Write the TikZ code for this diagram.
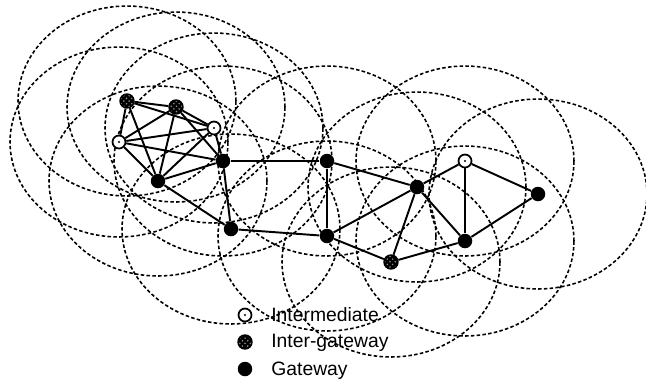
\documentclass[tikz,border=0pt]{standalone}
\usepackage{fontspec}
\setmainfont{Liberation Sans}
\usetikzlibrary{patterns,backgrounds}

\begin{document}
\begin{tikzpicture}[x=0.02cm,y=-0.02cm,
  coverage/.style={draw=black,line width=0.9pt,dash pattern=on 2pt off 1.3pt},
  link/.style={draw=black,line width=1.1pt},
  gw/.style={circle,fill=black,inner sep=0pt,minimum size=0.29cm},
  igw/.style={circle,draw=black,line width=0.8pt,preaction={fill=black},pattern=crosshatch dots,pattern color=black!45,inner sep=0pt,minimum size=0.28cm},
  mid/.style={circle,draw=black,line width=1pt,fill=white,inner sep=0pt,minimum size=0.26cm,
    path picture={\fill[black] (path picture bounding box.center) circle (0.6pt);}},
  legtext/.style={anchor=base west,inner sep=0pt,font=\fontsize{11}{13}\selectfont}]
\useasboundingbox (0,0) rectangle (646,383);
% stations
\node[igw] (a) at (127,101) {};
\node[igw] (b) at (176,107) {};
\node[mid] (c) at (214,128) {};
\node[mid] (d) at (119,142) {};
\node[gw] (e) at (158,181) {};
\node[gw] (f) at (223,161) {};
\node[gw] (g) at (327,161) {};
\node[gw] (h) at (231,229) {};
\node[gw] (i) at (327,236) {};
\node[gw] (j) at (417,187) {};
\node[mid] (k) at (465,161) {};
\node[gw] (l) at (538,194) {};
\node[gw] (m) at (465,241) {};
\node[igw] (n) at (391,262) {};
\begin{pgfonlayer}{background}
% radio ranges
\foreach \p in {a,b,c,d,e,f,g,h,i,j,k,l,m,n}
  \draw[coverage] (\p) ellipse [x radius=2.18cm, y radius=1.9cm];
% links
\foreach \u/\v in {a/b,a/c,a/d,a/e,b/c,b/d,b/e,b/f,c/d,c/e,c/f,d/e,d/f,e/f,
    e/h,f/h,f/g,g/i,g/j,h/i,i/j,i/n,j/n,j/k,j/m,k/m,k/l,l/m,m/n}
  \draw[link] (\u) -- (\v);
\end{pgfonlayer}
% legend
\node[mid] (keymid) at (245,315) {};
\node[legtext] (txtmid) at (271,321) {Intermediate};
\node[igw] (keyigw) at (245,342) {};
\node[legtext] (txtigw) at (271,347) {Inter-gateway};
\node[gw] (keygw) at (245,369) {};
\node[legtext] (txtgw) at (271,375) {Gateway};
\end{tikzpicture}
\end{document}
